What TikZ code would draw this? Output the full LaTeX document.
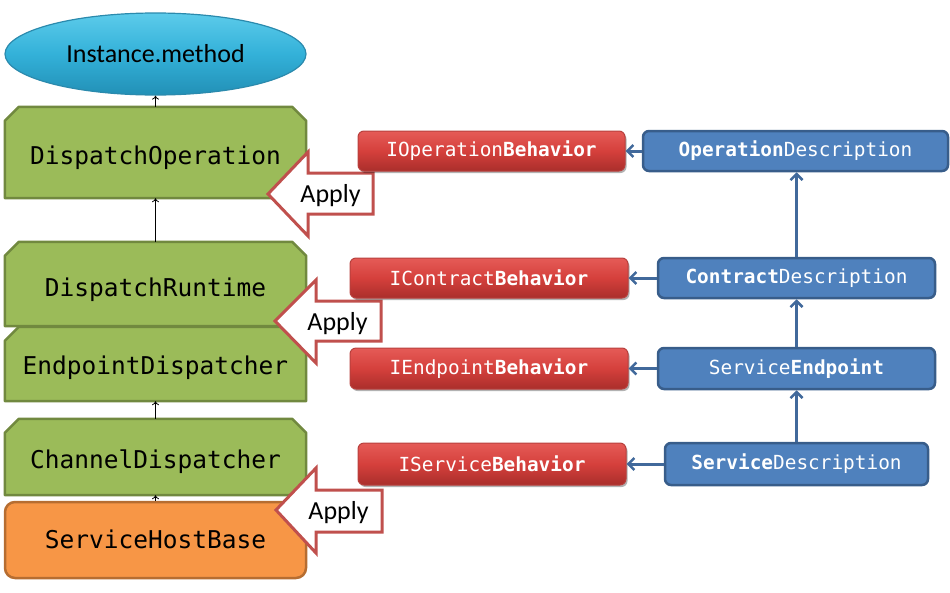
\documentclass[tikz,border=0pt]{standalone}
\usepackage{fontspec}
\setmonofont{DejaVu Sans Mono}
\newfontfamily\cali{Carlito}
\usetikzlibrary{shapes.geometric,arrows.meta,shadows,backgrounds}
\definecolor{grfill}{HTML}{9BBB59}
\definecolor{grline}{HTML}{71893F}
\definecolor{orfill}{HTML}{F79646}
\definecolor{orline}{HTML}{B66D31}
\definecolor{blfill}{HTML}{4F81BD}
\definecolor{blline}{HTML}{385D8A}
\definecolor{blarrow}{HTML}{41699B}
\definecolor{rdtop}{HTML}{E55B57}
\definecolor{rdmid}{HTML}{D5403C}
\definecolor{rdbot}{HTML}{AA2E2B}
\definecolor{rdline}{HTML}{B8403D}
\definecolor{apline}{HTML}{C0504D}
\definecolor{cytop}{HTML}{5CCBEA}
\definecolor{cymid}{HTML}{33B1D9}
\definecolor{cybot}{HTML}{2290B6}
\definecolor{cyline}{HTML}{2B8AAD}
\newcommand\chamfbox[1]{%
  \begin{pgfonlayer}{background}
  \draw[grbox] (#1.south west) -- ([yshift=-14pt]#1.north west) -- ([xshift=14pt]#1.north west)
    -- ([xshift=-14pt]#1.north east) -- ([yshift=-14pt]#1.north east) -- (#1.south east) -- cycle;
  \end{pgfonlayer}}
\tikzset{
  gtext/.style={font=\ttfamily\fontsize{24.5}{28}\selectfont, minimum width=301pt, inner sep=0pt, text=black, text depth=6pt},
  grbox/.style={draw=grline, fill=grfill, line width=2.5pt, line join=round},
  orbox/.style={gtext, draw=orline, fill=orfill, line width=2.5pt, rounded corners=10pt},
  smalltext/.style={font=\ttfamily\fontsize{19.4}{22}\selectfont, text=white, inner sep=0pt},
  redbox/.style={smalltext, draw=rdline, line width=1pt, rounded corners=6pt,
     top color=rdtop, bottom color=rdbot, middle color=rdmid,
     drop shadow={shadow xshift=1.5pt, shadow yshift=-2pt, opacity=0.3, fill=black}},
  bluebox/.style={smalltext, draw=blline, fill=blfill, line width=2.5pt, rounded corners=6pt},
  blk/.style={-{To[length=4pt,width=7pt]}, line width=0.8pt, black},
  barr/.style={-{Straight Barb[length=6pt,width=12pt,line width=2.5pt]}, line width=3pt, blarrow},
  applyarr/.style={draw=apline, fill=white, line width=3pt, line join=miter},
  applytext/.style={font=\cali\fontsize{26}{30}\selectfont, inner sep=0pt}
}
\begin{document}
\begin{tikzpicture}[x=1pt,y=-1pt]
\useasboundingbox (0,0) rectangle (950,592);

% left column
\node[ellipse, minimum width=301pt, minimum height=82pt, draw=cyline, line width=1.2pt,
      top color=cytop, bottom color=cybot, middle color=cymid,
      font=\cali\fontsize{26}{30}\selectfont] (inst) at (155.5,54) {Instance.method};
\node[gtext, text height=30pt, minimum height=91pt] (dop) at (155.5,152.5) {DispatchOperation};
\chamfbox{dop}
\node[gtext, text height=30pt, minimum height=84pt] (drt) at (155.5,284) {DispatchRuntime};
\chamfbox{drt}
\node[gtext, text height=26pt, minimum height=74pt] (edp) at (155.5,364) {EndpointDispatcher};
\chamfbox{edp}
\node[gtext, text height=28pt, minimum height=76pt] (chd) at (155.5,457) {ChannelDispatcher};
\chamfbox{chd}
\node[orbox, text height=23pt, minimum height=76pt] (shb) at (155.5,540) {ServiceHostBase};

\draw[blk] (dop.north) -- (inst.south);
\draw[blk] (drt.north) -- (dop.south);
\draw[blk] (chd.north) -- (edp.south);
\draw[blk] (shb.north) -- (chd.south);

% Apply arrows
\draw[applyarr] (268,194) -- (308,152) -- (308,173) -- (373,173) -- (373,214) -- (308,214) -- (308,236) -- cycle;
\node[applytext] (ap1) at (330.5,195.5) {Apply};
\draw[applyarr] (275,321) -- (316,280) -- (316,301) -- (381,301) -- (381,341) -- (316,341) -- (316,363) -- cycle;
\node[applytext] (ap2) at (337.5,323.5) {Apply};
\draw[applyarr] (276,510) -- (316,468) -- (316,490) -- (382,490) -- (382,532) -- (316,532) -- (316,553) -- cycle;
\node[applytext] (ap3) at (338.5,512.5) {Apply};

% red behaviours
\node[redbox, minimum width=267pt, minimum height=40pt] (iop) at (491.5,151) {IOperation\textbf{Behavior}};
\node[redbox, minimum width=278pt, minimum height=40pt] (icb) at (489,278) {IContract\textbf{Behavior}};
\node[redbox, minimum width=278pt, minimum height=41pt] (ieb) at (489,368.5) {IEndpoint\textbf{Behavior}};
\node[redbox, minimum width=268pt, minimum height=42pt] (isb) at (492,464) {IService\textbf{Behavior}};

% blue descriptions
\node[bluebox, minimum width=305pt, minimum height=40pt] (opd) at (795.5,151) {\textbf{Operation}Description};
\node[bluebox, minimum width=277pt, minimum height=40pt] (cd) at (796.5,278) {\textbf{Contract}Description};
\node[bluebox, minimum width=277pt, minimum height=41pt] (se) at (796.5,368.5) {Service\textbf{Endpoint}};
\node[bluebox, minimum width=263pt, minimum height=42pt] (sd) at (796.5,464) {\textbf{Service}Description};

\draw[barr] (opd.west) -- (iop.east);
\draw[barr] (cd.west) -- (icb.east);
\draw[barr] (se.west) -- (ieb.east);
\draw[barr] (sd.west) -- (isb.east);
\draw[barr] (cd.north) -- (cd.north |- opd.south);
\draw[barr] (se.north) -- (se.north |- cd.south);
\draw[barr] (sd.north) -- (sd.north |- se.south);
\end{tikzpicture}
\end{document}
